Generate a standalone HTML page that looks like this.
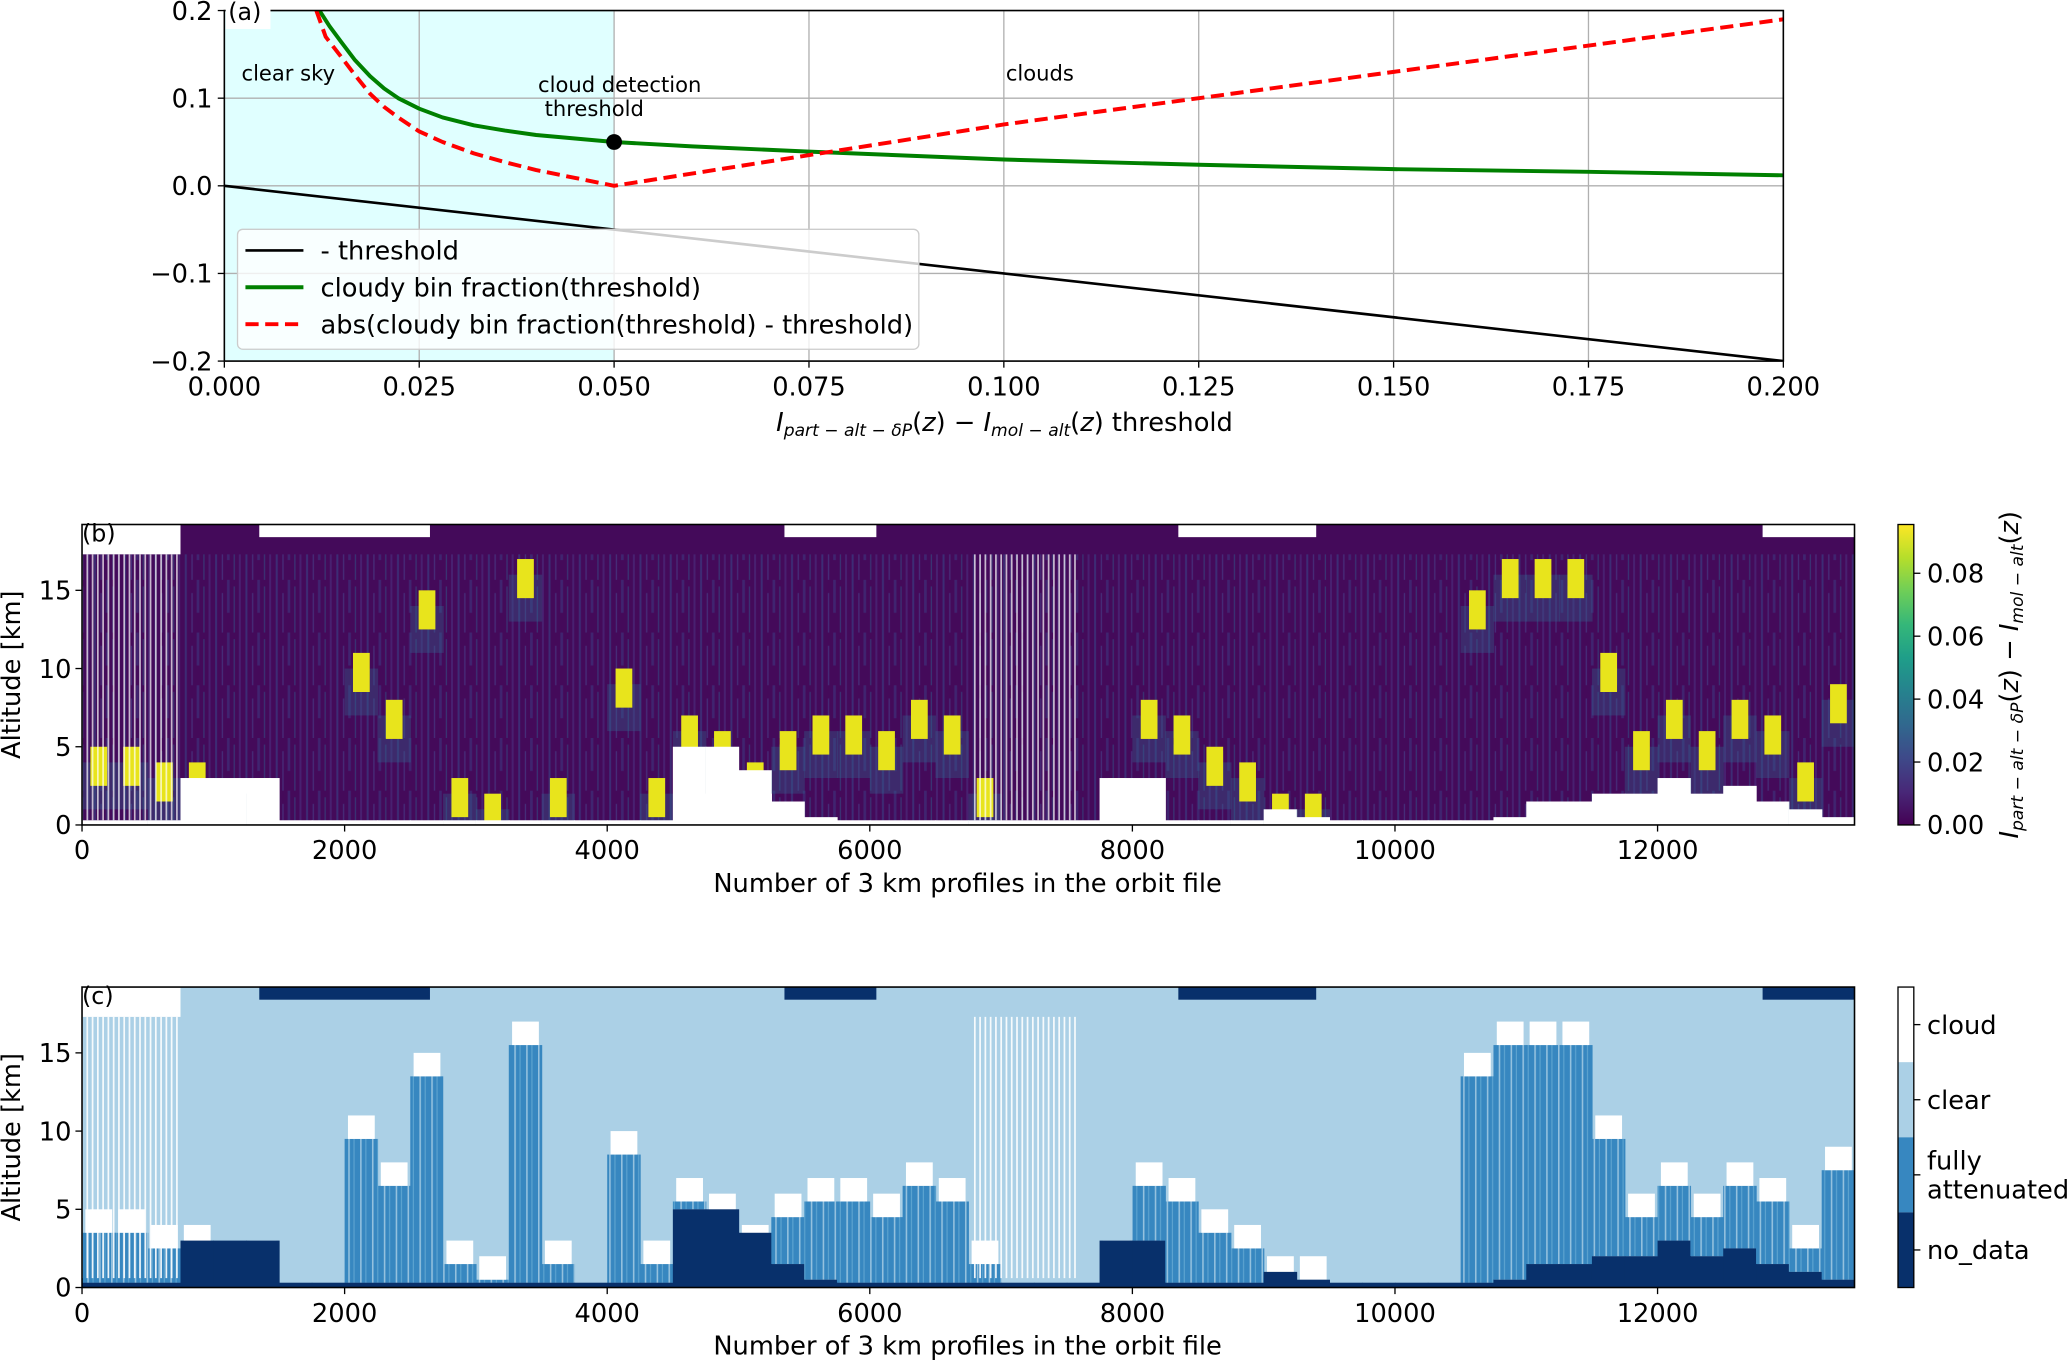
<!DOCTYPE html>
<html><head><meta charset="utf-8"><style>
html,body{margin:0;padding:0;background:#fff;}
svg{display:block;font-family:"DejaVu Sans","Liberation Sans",sans-serif;}
</style></head><body>
<svg id="fig" width="2067" height="1360" viewBox="0 0 1568 1032" xmlns="http://www.w3.org/2000/svg">
<defs>
<pattern id="purpTex" patternUnits="userSpaceOnUse" width="23" height="40">
<rect x="0" y="0" width="23" height="40" fill="#440a5a"/>
<rect x="2" y="0" width="1.5" height="40" fill="#3b3a80" opacity="0.7"/>
<rect x="7" y="10" width="1" height="30" fill="#463480" opacity="0.8"/>
<rect x="11" y="0" width="2" height="25" fill="#3e2a76" opacity="0.8"/>
<rect x="16" y="5" width="1" height="35" fill="#2f5a8c" opacity="0.5"/>
<rect x="20" y="0" width="1.5" height="40" fill="#482576" opacity="0.8"/>
</pattern>
<pattern id="attTex" patternUnits="userSpaceOnUse" width="9" height="40">
<rect x="0" y="0" width="9" height="40" fill="#3787c0"/>
<rect x="3" y="0" width="1.2" height="40" fill="#abd0e6" opacity="0.8"/>
<rect x="7" y="0" width="0.8" height="40" fill="#6aaed6" opacity="0.8"/>
</pattern>
</defs>
<g id="pa"></g>
<g id="pb"></g>
<g id="pc"></g>
</svg>
<script>
// ---- Panel (a) data ----
const aXTicks = [0, 0.025, 0.05, 0.075, 0.1, 0.125, 0.15, 0.175, 0.2];
const aXTickLabels = ["0.000","0.025","0.050","0.075","0.100","0.125","0.150","0.175","0.200"];
const aYTicks = [0.2, 0.1, 0.0, -0.1, -0.2];
const aYTickLabels = ["0.2","0.1","0.0","\u22120.1","\u22120.2"];
const threshT = [0, 0.2];
const threshV = [0, -0.2];
const greenT = [0.0122,0.0135,0.015,0.0167,0.0187,0.0205,0.0223,0.025,0.028,0.032,0.036,0.04,0.045,0.05,0.06,0.075,0.1,0.125,0.15,0.175,0.2];
const greenV = [0.2,0.182,0.164,0.144,0.125,0.111,0.1,0.088,0.078,0.069,0.063,0.058,0.054,0.05,0.045,0.039,0.03,0.024,0.019,0.016,0.012];
const redT = [0.0118,0.013,0.015,0.0167,0.0187,0.0205,0.0223,0.025,0.028,0.032,0.036,0.04,0.045,0.05,0.1,0.15,0.2];
const redV = [0.2,0.17,0.147,0.127,0.105,0.09,0.078,0.062,0.05,0.037,0.027,0.018,0.009,0.0,0.07,0.13,0.19];
// ---- Panels (b)/(c) data: 54 bins of 250 profiles ----
const binWidth = 250;
const cloudTop = [5,5,4,4,0,3,0,0,11,8,15,3,2,17,3,0,10,3,7,6,4,6,7,7,6,8,7,3,0,0,0,3,8,7,5,4,2,2,0,0,0,0,15,17,17,17,11,6,8,6,8,7,4,9];
const surface = [0.3,0.3,0.3,3,3,3,0.3,0.3,0.3,0.3,0.3,0.3,0.3,0.3,0.3,0.3,0.3,0.3,5,5,3.5,1.5,0.5,0.3,0.3,0.3,0.3,0.3,0.3,0.3,0.3,3,3,0.3,0.3,0.3,1,0.5,0.3,0.3,0.3,0.3,0.3,0.5,1.5,1.5,2,2,3,2,2.5,1.5,1,0.5];
const topGapStart = [1350, 5350, 8350, 12800];
const topGapEnd = [2650, 6050, 9400, 13500];
const bcXTicks = [0,2000,4000,6000,8000,10000,12000];
const bcYTicks = [0,5,10,15];
const cbTicks = [0,0.02,0.04,0.06,0.08];
const cbTickLabels = ["0.00","0.02","0.04","0.06","0.08"];
const cCats = ["cloud","clear","fully|attenuated","no_data"];

const FS=19.5, AFS=16;
const NS="http://www.w3.org/2000/svg";
function mk(parent,tag,attrs,text){const e=document.createElementNS(NS,tag);for(const k in attrs)e.setAttribute(k,attrs[k]);if(text!==undefined)e.textContent=text;parent.appendChild(e);return e;}

// ===== Panel A =====
const pa=document.getElementById('pa');
const aL=170,aR=1353,aT=8,aB=274;
const ax=t=>aL+t/0.2*(aR-aL);
const ay=v=>aB-(v+0.2)/0.4*(aB-aT);
const clipA=mk(pa,'clipPath',{id:'clipA'});mk(clipA,'rect',{x:aL,y:aT,width:aR-aL,height:aB-aT});
let r=mk(pa,'rect',{x:ax(0),y:aT,width:ax(0.05)-ax(0),height:aB-aT,fill:'#e0ffff'});

aXTicks.forEach((t,i)=>{
 let g=mk(pa,'line',{x1:ax(t),x2:ax(t),y1:aT,y2:aB,stroke:'#b0b0b0','stroke-width':1});
 
 mk(pa,'line',{x1:ax(t),x2:ax(t),y1:aB,y2:aB+5,stroke:'#000'});
 let tx=mk(pa,'text',{x:ax(t),y:aB+26,'text-anchor':'middle','font-size':FS},aXTickLabels[i]);
 
});
aYTicks.forEach((v,i)=>{
 let g=mk(pa,'line',{x1:aL,x2:aR,y1:ay(v),y2:ay(v),stroke:'#b0b0b0','stroke-width':1});
 
 mk(pa,'line',{x1:aL-5,x2:aL,y1:ay(v),y2:ay(v),stroke:'#000'});
 let tx=mk(pa,'text',{x:aL-9,y:ay(v)+7,'text-anchor':'end','font-size':FS},aYTickLabels[i]);
 
});
function pts(T,V){return T.map((t,i)=>ax(t)+','+ay(V[i])).join(' ');}
let l1=mk(pa,'polyline',{points:pts(threshT,threshV),fill:'none',stroke:'#000','stroke-width':2,'clip-path':'url(#clipA)'});

let l2=mk(pa,'polyline',{points:pts(greenT,greenV),fill:'none',stroke:'#008000','stroke-width':3,'stroke-linejoin':'round','clip-path':'url(#clipA)'});

let l3=mk(pa,'polyline',{points:pts(redT,redV),fill:'none',stroke:'#ff0000','stroke-width':3,'stroke-dasharray':'10,5','stroke-linejoin':'round','clip-path':'url(#clipA)'});

let dot=mk(pa,'circle',{cx:ax(0.05),cy:ay(0.05),r:6,fill:'#000'});

mk(pa,'rect',{x:aL,y:aT,width:aR-aL,height:aB-aT,fill:'none',stroke:'#000','stroke-width':1.2});
mk(pa,'rect',{x:171,y:0,width:34,height:22,fill:'#fff'});
mk(pa,'text',{x:173,y:15,'font-size':18},'(a)');
mk(pa,'text',{x:183,y:61,'font-size':AFS},'clear sky');
mk(pa,'text',{x:408,y:70,'font-size':AFS},'cloud detection');
mk(pa,'text',{x:413,y:88,'font-size':AFS},'threshold');
mk(pa,'text',{x:763,y:61,'font-size':AFS},'clouds');
// legend
const lg=mk(pa,'g',{});
mk(lg,'rect',{x:180,y:174,width:517,height:91,rx:4,fill:'rgba(255,255,255,0.8)',stroke:'#ccc'});
const legItems=[['#000','','- threshold'],['#008000','','cloudy bin fraction(threshold)'],['#ff0000','10,5','abs(cloudy bin fraction(threshold) - threshold)']];
legItems.forEach((it,i)=>{const y=190+i*28;
 mk(lg,'line',{x1:186,x2:230,y1:y,y2:y,stroke:it[0],'stroke-width':it[0]=='#000'?2:3,'stroke-dasharray':it[1]||'none'});
 let t=mk(lg,'text',{x:243,y:y+7,'font-size':FS},it[2]);});
let xl=mk(pa,'text',{x:762,y:327,'text-anchor':'middle','font-size':FS});
xl.innerHTML='<tspan font-style="italic">I</tspan><tspan font-style="italic" font-size="13" dy="4">part − alt − δP</tspan><tspan dy="-4">(</tspan><tspan font-style="italic">z</tspan>) − <tspan font-style="italic">I</tspan><tspan font-style="italic" font-size="13" dy="4">mol − alt</tspan><tspan dy="-4">(</tspan><tspan font-style="italic">z</tspan>) threshold';


// ===== Panels B & C =====
function heat(gid,top,isC){
 const p=document.getElementById(gid);
 const L=62,R=1407,T=top,B=top+228;
 const X=v=>L+v/13500*(R-L);
 const Y=k=>B-k*11.87;
 const cid='clip'+gid;const cp=mk(p,'clipPath',{id:cid});mk(cp,'rect',{x:L,y:T,width:R-L,height:B-T});
 const g=mk(p,'g',{'clip-path':'url(#'+cid+')'});
 mk(g,'rect',{x:L,y:T,width:R-L,height:B-T,fill:isC?'#abd0e6':'#440a5a'});
 if(!isC){
  mk(g,'rect',{x:L,y:Y(17.3),width:R-L,height:Y(0)-Y(17.3),fill:'url(#purpTex)'});
 }
 cloudTop.forEach((ct,i)=>{
  const x0=X(i*binWidth),w=X((i+1)*binWidth)-x0+0.5,s=surface[i];
  if(ct>0){
   if(isC){
    let a=mk(g,'rect',{x:x0,y:Y(ct-1.5),width:w,height:Y(s)-Y(ct-1.5),fill:'url(#attTex)'});
    
    let c=mk(g,'rect',{x:x0+w*0.1,y:Y(ct),width:w*0.8,height:Y(ct-1.5)-Y(ct),fill:'#ffffff'});
    
   } else {
    mk(g,'rect',{x:x0,y:Y(ct-1),width:w,height:Y(ct-4)-Y(ct-1),fill:'#31688e',opacity:0.35});
    let c=mk(g,'rect',{x:x0+w*0.25,y:Y(ct),width:w*0.5,height:Y(ct-2.5)-Y(ct),fill:'#e8e41c'});
    
   }
  }
  let sf=mk(g,'rect',{x:x0,y:Y(s),width:w,height:B-Y(s),fill:isC?'#08306b':'#ffffff'});
  
 });
 if(isC) mk(g,'rect',{x:L,y:Y(0.3),width:R-L,height:B-Y(0.3),fill:'#08306b'});
 topGapStart.forEach((s,i)=>{
  let t=mk(g,'rect',{x:X(s),y:T,width:X(topGapEnd[i])-X(s),height:Y(18.4)-T,fill:isC?'#08306b':'#ffffff'});
  
 });
 [[0,750],[6800,7600]].forEach(rg=>{
  for(let x=X(rg[0]);x<X(rg[1]);x+=4){
   mk(g,'line',{x1:x,x2:x,y1:Y(17.3),y2:Y(isC?0.6:0.3),stroke:'#ffffff','stroke-width':1.3,opacity:isC?0.9:0.7});
  }
 });
 mk(g,'rect',{x:X(0),y:T,width:X(750)-X(0),height:Y(17.3)-T,fill:'#fff'});
 mk(p,'rect',{x:L,y:T,width:R-L,height:B-T,fill:'none',stroke:'#000','stroke-width':1.2});
 bcXTicks.forEach(v=>{mk(p,'line',{x1:X(v),x2:X(v),y1:B,y2:B+5,stroke:'#000'});
  let t=mk(p,'text',{x:X(v),y:B+26,'text-anchor':'middle','font-size':FS},String(v));});
 bcYTicks.forEach(v=>{mk(p,'line',{x1:L-5,x2:L,y1:Y(v),y2:Y(v),stroke:'#000'});
  let t=mk(p,'text',{x:L-8,y:Y(v)+7,'text-anchor':'end','font-size':FS},String(v));});
 let xt=mk(p,'text',{x:734,y:B+51,'text-anchor':'middle','font-size':FS},'Number of 3 km profiles in the orbit file');
 
 let yt=mk(p,'text',{x:15,y:(T+B)/2,'text-anchor':'middle','font-size':FS,transform:'rotate(-90 15 '+((T+B)/2)+')'},'Altitude [km]');
 
 mk(p,'text',{x:62,y:T+13,'font-size':18},isC?'(c)':'(b)');
 const cb=mk(p,'g',{});
 const cL=1440,cW=12;
 if(!isC){
  const gr=mk(cb,'linearGradient',{id:'vir',x1:0,y1:1,x2:0,y2:0});
  ['#440154','#482878','#3e4989','#31688e','#26828e','#1f9e89','#35b779','#6ece58','#b5de2b','#fde725'].forEach((c,i)=>mk(gr,'stop',{offset:i/9,'stop-color':c}));
  mk(cb,'rect',{x:cL,y:T,width:cW,height:B-T,fill:'url(#vir)',stroke:'#000'});
  const cy=v=>B-v/0.0955*(B-T);
  cbTicks.forEach((v,i)=>{mk(cb,'line',{x1:cL+cW,x2:cL+cW+5,y1:cy(v),y2:cy(v),stroke:'#000'});
   mk(cb,'text',{x:cL+cW+10,y:cy(v)+7,'font-size':FS},cbTickLabels[i]);});
  const ty=(T+B)/2;
  let cl=mk(cb,'text',{x:1531,y:ty,'text-anchor':'middle','font-size':FS,transform:'rotate(-90 1531 '+ty+')'});
  cl.innerHTML='<tspan font-style="italic">I</tspan><tspan font-style="italic" font-size="13" dy="4">part − alt − δP</tspan><tspan dy="-4">(</tspan><tspan font-style="italic">z</tspan>) − <tspan font-style="italic">I</tspan><tspan font-style="italic" font-size="13" dy="4">mol − alt</tspan><tspan dy="-4">(</tspan><tspan font-style="italic">z</tspan>)';
 } else {
  const cols=['#ffffff','#abd0e6','#3787c0','#08306b'];const h=(B-T)/4;
  cCats.forEach((c,i)=>{mk(cb,'rect',{x:cL,y:T+i*h,width:cW,height:h,fill:cols[i]});
   const yc=T+(i+0.5)*h;mk(cb,'line',{x1:cL+cW,x2:cL+cW+5,y1:yc,y2:yc,stroke:'#000'});
   const parts=c.split('|');
   parts.forEach((s,j)=>mk(cb,'text',{x:cL+cW+10,y:yc+7+(j-(parts.length-1)/2)*22,'font-size':FS},s));});
  mk(cb,'rect',{x:cL,y:T,width:cW,height:B-T,fill:'none',stroke:'#000'});
 }
}
heat('pb',398,false);
heat('pc',749,true);
</script>
</body></html>
